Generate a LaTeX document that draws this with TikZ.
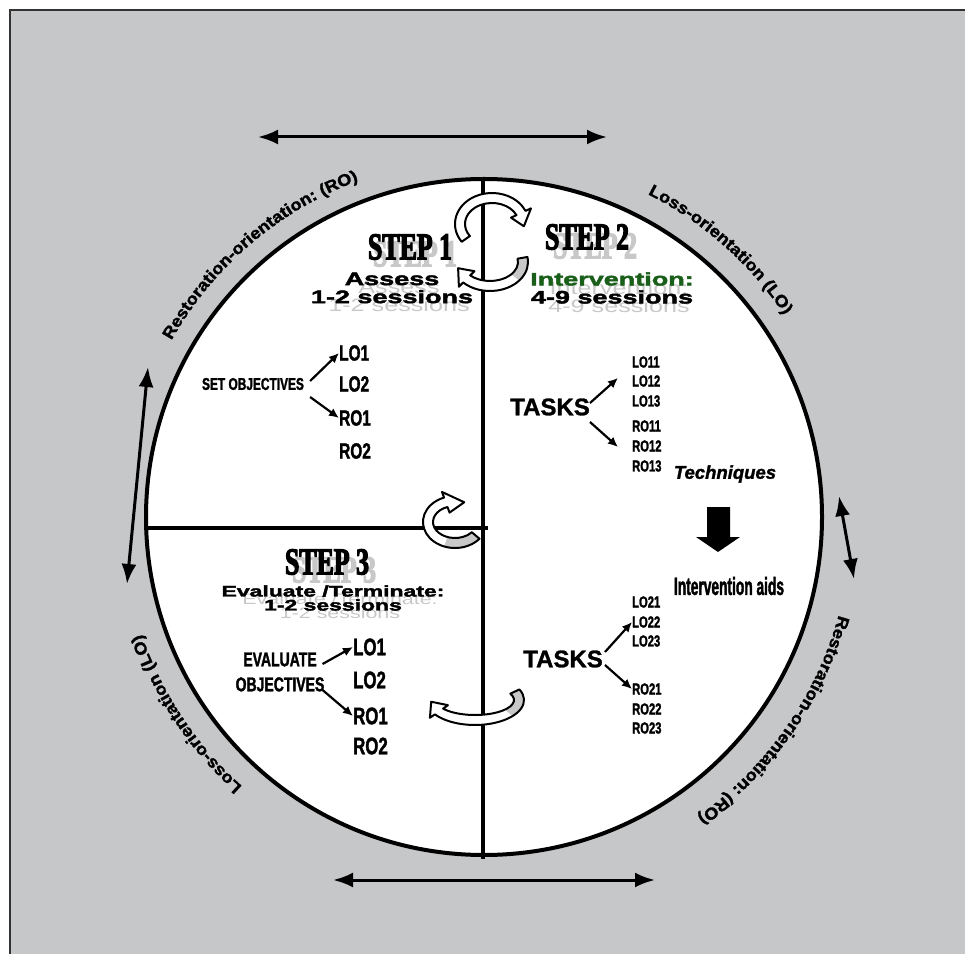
\documentclass[tikz,border=0pt]{standalone}
\usepackage{fontspec}
\setmainfont{Liberation Sans}[BoldFeatures={FakeBold=1.2}, BoldItalicFeatures={FakeBold=1.5}]
\newfontfamily\stepfont{Liberation Serif}[FakeStretch=0.68, BoldFeatures={FakeBold=3}]
\newfontfamily\widefont{Liberation Sans}[FakeStretch=1.5, BoldFeatures={FakeBold=2.5}]
\newfontfamily\shfont{Liberation Sans}[FakeStretch=1.4]
\newfontfamily\narrowfont{Liberation Sans}[FakeStretch=0.7, BoldFeatures={FakeBold=1.5}]
\newfontfamily\condfont{Liberation Sans}[FakeStretch=0.55, BoldFeatures={FakeBold=1.5}]
\newfontfamily\arcfont{Liberation Sans}[FakeStretch=1.1, BoldFeatures={FakeBold=1.8}]
\usepackage{xcolor}
\usetikzlibrary{positioning}
\usetikzlibrary{arrows.meta,calc}
\usetikzlibrary{decorations.text}
\definecolor{bggray}{RGB}{198,199,201}
\definecolor{shgray}{RGB}{200,200,200}
\definecolor{ivgreen}{RGB}{25,95,25}
\newcommand{\curvfont}{\arcfont\bfseries\fontsize{16.5}{16.5}\selectfont}
% #1 centre, #2 rx, #3 ry, #4 from, #5 to, #6 tip, #7 grey part ends, #8 half width
\newcommand{\bentarrow}[8]{%
\begin{scope}[shift={#1}]
\fill[white] ({(#2+#8)*cos(#4)},{(#3+#8)*sin(#4)}) arc[start angle=#4, end angle=#5, x radius=#2+#8, y radius=#3+#8]
  -- ({(#2+2.2*#8)*cos(#5)},{(#3+2.2*#8)*sin(#5)}) -- ({#2*cos(#6)},{#3*sin(#6)})
  -- ({(#2-2.2*#8)*cos(#5)},{(#3-2.2*#8)*sin(#5)}) -- ({(#2-#8)*cos(#5)},{(#3-#8)*sin(#5)})
  arc[start angle=#5, end angle=#4, x radius=#2-#8, y radius=#3-#8] -- cycle;
\fill[shgray] ({(#2+#8)*cos(#4)},{(#3+#8)*sin(#4)}) arc[start angle=#4, end angle=#7, x radius=#2+#8, y radius=#3+#8]
  -- ({(#2-#8)*cos(#7)},{(#3-#8)*sin(#7)}) arc[start angle=#7, end angle=#4, x radius=#2-#8, y radius=#3-#8] -- cycle;
\draw[line width=2pt, line join=round] ({(#2+#8)*cos(#4)},{(#3+#8)*sin(#4)}) arc[start angle=#4, end angle=#5, x radius=#2+#8, y radius=#3+#8]
  -- ({(#2+2.2*#8)*cos(#5)},{(#3+2.2*#8)*sin(#5)}) -- ({#2*cos(#6)},{#3*sin(#6)})
  -- ({(#2-2.2*#8)*cos(#5)},{(#3-2.2*#8)*sin(#5)}) -- ({(#2-#8)*cos(#5)},{(#3-#8)*sin(#5)})
  arc[start angle=#5, end angle=#4, x radius=#2-#8, y radius=#3-#8] -- cycle;
\end{scope}}

\begin{document}
\begin{tikzpicture}[x=1pt, y=1pt,
  stepttl/.style={inner sep=0pt, font=\stepfont\bfseries\fontsize{38}{38}\selectfont},
  stepsh/.style={stepttl, text=shgray},
  sub/.style={inner sep=0pt, align=center, font=\widefont\bfseries\fontsize{18}{18}\selectfont},
  subsh/.style={sub, text=shgray, font=\shfont\fontsize{18}{18}\selectfont},
  subsm/.style={sub, font=\widefont\bfseries\fontsize{15.3}{14}\selectfont},
  subsmsh/.style={sub, text=shgray, font=\shfont\fontsize{15.3}{14}\selectfont},
  obj/.style={inner sep=0pt, align=center, font=\narrowfont\bfseries\fontsize{17}{25}\selectfont},
  lo/.style={inner sep=0pt, anchor=west, font=\narrowfont\bfseries\fontsize{22}{22}\selectfont},
  lobig/.style={lo, font=\narrowfont\bfseries\fontsize{24}{24}\selectfont},
  task/.style={inner sep=0pt, anchor=west, font=\narrowfont\bfseries\fontsize{16}{16}\selectfont},
  tasks/.style={inner sep=0pt, font=\bfseries\fontsize{24}{24}\selectfont},
  sarr/.style={->, >={Latex[length=10pt,width=9pt]}, line width=2.2pt},
  dbl/.style={<->, >={Latex[length=20pt,width=15pt]}, line width=3pt},
]
\useasboundingbox (0,0) rectangle (965,954);
\fill[bggray] (10,0) rectangle (965,944);
\draw[line width=1.2pt, black!80] (10,0) -- (10,944) -- (965,944);

\coordinate (O) at (484,437);
\draw[line width=4pt, fill=white] (O) circle[radius=338];
\draw[line width=4pt] (483,777) -- (483,95);
\draw[line width=4pt] (148,426) -- (488,426);

% outer arrows
\coordinate (t1) at (258,817); \coordinate (t2) at (607,817);
\coordinate (b1) at (333,74);  \coordinate (b2) at (655,74);
\coordinate (l1) at (148,587); \coordinate (l2) at (127,370);
\coordinate (r1) at (839,458); \coordinate (r2) at (854,375);
\draw[dbl] (t1) -- (t2);
\draw[dbl] (b1) -- (b2);
\draw[dbl] (l1) -- (l2);
\draw[dbl] (r1) -- (r2);

% texts round the circle
\path[decorate, decoration={text along path, text align=center,
  text={|\curvfont|Restoration-orientation: (RO)}}] ($(O)+(166:359)$) arc (166:95:359);
\path[decorate, decoration={text along path, text align=center,
  text={|\curvfont|Loss-orientation (LO)}}] ($(O)+(84:362)$) arc (84:13:362);
\path[decorate, decoration={text along path, text align=center,
  text={|\curvfont|Restoration-orientation: (RO)}}] ($(O)+(0:368)$) arc (0:-70:368);
\path[decorate, decoration={text along path, text align=center,
  text={|\curvfont|Loss-orientation (LO)}}] ($(O)+(249:362)$) arc (249:178:362);

% turning arrows
\bentarrow{(492,730)}{32}{26}{215}{25}{-5}{215}{5}
\bentarrow{(490,692)}{33}{24}{10}{-135}{-165}{-40}{5}
\bentarrow{(455,432)}{27}{21}{-40}{-250}{-290}{-110}{5}
\bentarrow{(475,254)}{44}{20}{25}{-145}{-175}{-40}{5}

% step 1
\node[stepsh] at (415,700) {STEP 1};
\node[stepttl] (st1) at (410,707) {STEP 1};
\node[subsh] at (399,658) {Assess\\1-2 sessions};
\node[sub] (as1) at (392,666) {Assess\\1-2 sessions};
\node[obj] (so) at (253,570) {SET OBJECTIVES};
\node[lo] (LOa1) at (339,601) {LO1};
\node[lo] (LOa2) at (339,570) {LO2};
\node[lo] (ROa1) at (339,536) {RO1};
\node[lo] (ROa2) at (339,503) {RO2};
\draw[sarr] ([xshift=6,yshift=3]so.east) -- (LOa1.west);
\draw[sarr] ([xshift=6,yshift=-13]so.east) -- (ROa1.west);

% step 2
\node[stepsh] at (595,708) {STEP 2};
\node[stepttl] (st2) at (587,717) {STEP 2};
\node[subsh] at (619,657) {Intervention:\\4-9 sessions};
\node[sub] (iv2) at (612,666) {\textcolor{ivgreen}{Intervention:}\\4-9 sessions};
\node[tasks] (tk1) at (550,547) {TASKS};
\node[task] (LO11) at (632,592) {LO11};
\node[task] (LO12) at (632,573) {LO12};
\node[task] (LO13) at (632,553) {LO13};
\node[task] (RO11) at (632,528) {RO11};
\node[task] (RO12) at (632,508) {RO12};
\node[task] (RO13) at (632,488) {RO13};
\draw[sarr] ([yshift=4]tk1.east) -- ([xshift=-14,yshift=3]LO12.west);
\draw[sarr] ([yshift=-15]tk1.east) -- ([xshift=-14,yshift=-1]RO12.west);
\node[inner sep=0pt, font=\bfseries\itshape\fontsize{18.5}{18.5}\selectfont] (tech) at (725,480) {Techniques};
\fill (707,447) -- (730,447) -- (730,417) -- (740,417) -- (718,402) -- (696,417) -- (707,417) -- cycle;
\node[inner sep=0pt, font=\condfont\bfseries\fontsize{25}{25}\selectfont] (aids) at (729,368) {Intervention aids};
\node[tasks] (tk2) at (563,295) {TASKS};
\node[task] (LO21) at (632,352) {LO21};
\node[task] (LO22) at (632,332) {LO22};
\node[task] (LO23) at (632,313) {LO23};
\node[task] (RO21) at (632,265) {RO21};
\node[task] (RO22) at (632,245) {RO22};
\node[task] (RO23) at (632,226) {RO23};
\draw[sarr] ([xshift=2,yshift=7]tk2.east) -- (LO22.west);
\draw[sarr] ([xshift=2,yshift=-6]tk2.east) -- (RO21.west);

% step 3
\node[stepsh] at (334,384) {STEP 3};
\node[stepttl] (st3) at (327,392) {STEP 3};
\node[subsmsh] at (340,348) {Evaluate /Terminate:\\1-2 sessions};
\node[subsm] (ev3) at (333,356) {Evaluate /Terminate:\\1-2 sessions};
\node[obj, font=\narrowfont\bfseries\fontsize{20}{25}\selectfont] (ev) at (280,282) {EVALUATE\\OBJECTIVES};
\node[lobig] (LOc1) at (353,307) {LO1};
\node[lobig] (LOc2) at (353,274) {LO2};
\node[lobig] (ROc1) at (353,238) {RO1};
\node[lobig] (ROc2) at (353,208) {RO2};
\draw[sarr] ([xshift=-2,yshift=8]ev.east) -- (LOc1.west);
\draw[sarr] ([xshift=-2,yshift=-18]ev.east) -- (ROc1.west);
\end{tikzpicture}
\end{document}
